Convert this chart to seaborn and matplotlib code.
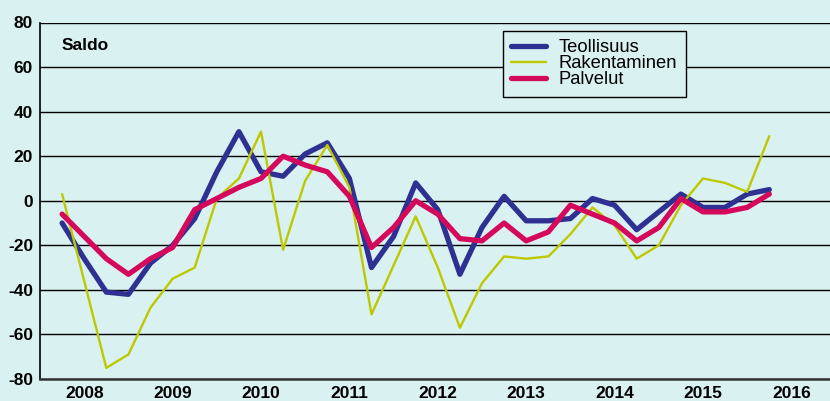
import matplotlib
matplotlib.use("Agg")
import matplotlib.pyplot as plt
import pandas as pd
import seaborn as sns

# Quarterly balance figures 2008Q1 - 2016Q1
quarters = pd.period_range("2008Q1", "2016Q1", freq="Q")
teollisuus = [-10, -26, -41, -42, -28, -20, -8, 13, 31, 13, 11, 21, 26, 10, -30, -16,
              8, -4, -33, -12, 2, -9, -9, -8, 1, -2, -13, -5, 3, -3, -3, 3, 5]
rakentaminen = [3, -36, -75, -69, -48, -35, -30, 1, 10, 31, -22, 9, 25, 6, -51, -29,
                -7, -30, -57, -37, -25, -26, -25, -15, -3, -11, -26, -20, -2, 10, 8, 4, 29]
palvelut = [-6, -16, -26, -33, -26, -21, -4, 1, 6, 10, 20, 16, 13, 2, -21, -12,
            0, -6, -17, -18, -10, -18, -14, -2, -6, -10, -18, -12, 1, -5, -5, -3, 3]
year_labels = [str(y) for y in range(2008, 2017)]

df = pd.DataFrame({
    "x": quarters.year + quarters.quarter / 4,
    "Teollisuus": teollisuus,
    "Rakentaminen": rakentaminen,
    "Palvelut": palvelut,
})

bg = "#d9f1f1"
sns.set_style("white", {"axes.facecolor": bg, "figure.facecolor": bg})
plt.rcParams["font.family"] = ["Liberation Sans", "DejaVu Sans"]
plt.rcParams["text.color"] = "black"
plt.rcParams["xtick.color"] = "black"
plt.rcParams["ytick.color"] = "black"

fig = plt.figure(figsize=(8.3, 4.01), dpi=100)
ax = fig.add_axes([40 / 830, 22 / 401, 790 / 830, 356.5 / 401])

sns.lineplot(data=df, x="x", y="Teollisuus", ax=ax, color="#2e3192", linewidth=3.8, label="Teollisuus")
sns.lineplot(data=df, x="x", y="Rakentaminen", ax=ax, color="#bec800", linewidth=1.7, label="Rakentaminen")
sns.lineplot(data=df, x="x", y="Palvelut", ax=ax, color="#d5095c", linewidth=3.8, label="Palvelut")

ax.set_xlim(2008, 2008 + 790 / 88.4)
ax.set_ylim(-80, 80)
ax.set_yticks(range(-80, 81, 20))
ax.set_yticklabels([str(v) for v in range(-80, 81, 20)], fontsize=12.5, fontweight="bold")
ax.yaxis.grid(True, color="black", linewidth=1.0)
ax.set_axisbelow(True)
ax.tick_params(axis="y", length=0, pad=5)

ax.set_xticks(range(2009, 2017))
ax.set_xticklabels([])
ax.set_xticks([y + 0.5 for y in range(2008, 2017)], minor=True)
ax.set_xticklabels(year_labels, minor=True, fontsize=12.5, fontweight="bold")
ax.tick_params(axis="x", which="major", direction="in", length=7, width=1, color="#222222")
ax.tick_params(axis="x", which="minor", length=0, pad=5)
ax.set_xlabel("")
ax.set_ylabel("")

for s in ["top", "right"]:
    ax.spines[s].set_visible(False)
ax.spines["left"].set_color("black")
ax.spines["left"].set_linewidth(1.2)
ax.spines["bottom"].set_color("#333333")
ax.spines["bottom"].set_linewidth(1.8)

ax.text(22 / 790, 0.935, "Saldo", transform=ax.transAxes, fontsize=12.5, fontweight="bold",
        va="center", ha="left")

leg = ax.legend(loc="upper left", bbox_to_anchor=(503 / 830, 1 - 31 / 401),
                bbox_transform=fig.transFigure, fontsize=13.2, frameon=True, fancybox=False,
                edgecolor="black", framealpha=1, borderpad=0.45, labelspacing=-0.05,
                handlelength=1.9, handletextpad=0.7, borderaxespad=0)
leg.get_frame().set_linewidth(1.0)

fig.savefig("out.png", dpi=100, facecolor=bg)
